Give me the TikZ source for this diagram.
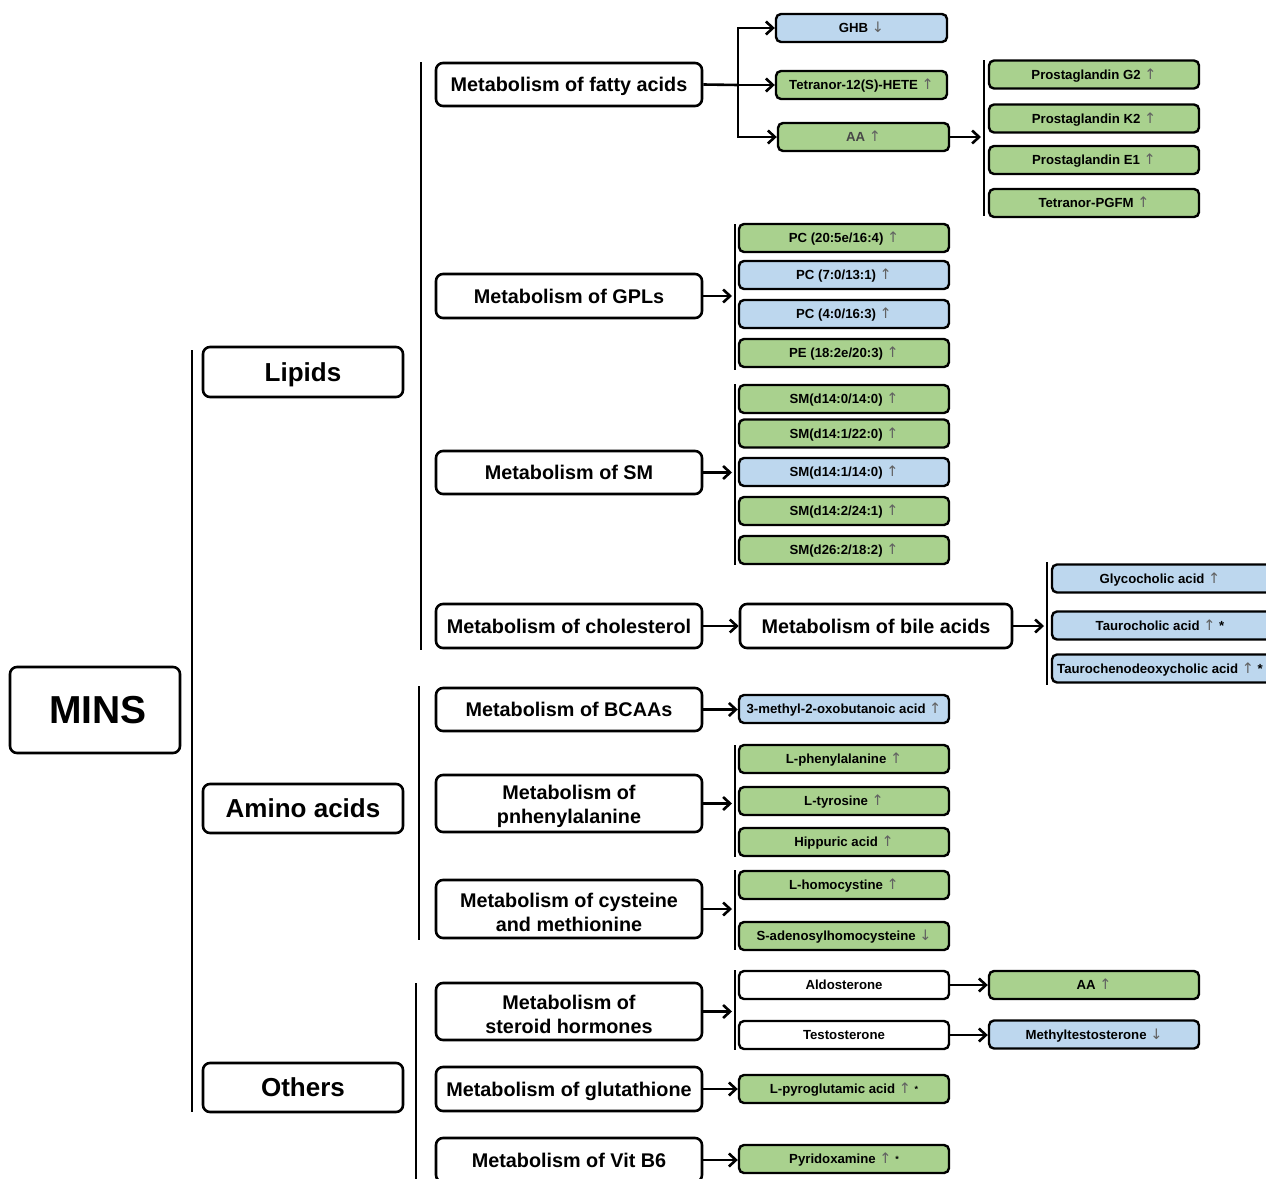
\documentclass[tikz,border=0pt]{standalone}
\usepackage{fontspec}
\setmainfont{Liberation Sans}
\newfontfamily\arrfont{DejaVu Sans}
\usetikzlibrary{arrows.meta}
\definecolor{lgreen}{HTML}{A9D18E}
\definecolor{lblue}{HTML}{BDD7EE}
\newcommand\myup{{\arrfont\mdseries\fontsize{14.5}{14}\selectfont\color{black!62}↑}}
\newcommand\mydown{{\arrfont\mdseries\fontsize{14.5}{14}\selectfont\color{black!62}↓}}
\newcommand\mystar{{\fontsize{9}{9}\selectfont\raisebox{1pt}{*}}}
\newcommand\tallstrut{\rule{0pt}{20.5pt}}
\tikzset{
  box/.style={draw, line width=2.6pt, rounded corners=7pt, align=center, inner sep=0pt,
    font=\bfseries\fontsize{19.8}{24}\selectfont},
  one/.style={text height=14.2pt, text depth=0pt},
  big/.style={box, text height=18.6pt, text depth=0pt, font=\bfseries\fontsize{26}{30}\selectfont},
  leaf/.style={draw, line width=2.4pt, rounded corners=5pt, inner sep=0pt, text height=9.5pt, text depth=0pt,
    minimum width=210pt, minimum height=28pt, font=\bfseries\fontsize{13.2}{16}\selectfont},
  gr/.style={leaf, fill=lgreen},
  bl/.style={leaf, fill=lblue},
  wh/.style={leaf, fill=white},
  arr/.style={line width=2.6pt, -{Straight Barb[length=7pt,width=13pt]}},
  bar/.style={line width=2.6pt},
  link/.style={line width=2.6pt}
}
\begin{document}
\begin{tikzpicture}[x=1pt,y=-1pt]
\path[use as bounding box] (0,0) rectangle (1266,1178);
\clip (0,0) rectangle (1266,1178);

% root and categories
\node[box, text height=27.9pt, text depth=0pt, minimum width=170pt, minimum height=86pt, font=\bfseries\fontsize{39}{44}\selectfont] (mins) at (95,710) {\hspace*{6pt}MINS};
\node[big, minimum width=200pt, minimum height=50pt] (lipids) at (303,372) {Lipids};
\node[big, minimum width=200pt, minimum height=49pt] (amino) at (303,808.5) {Amino acids};
\node[big, minimum width=200pt, minimum height=49pt] (others) at (303,1087.5) {Others};

% bars
\draw[bar] (192,350) -- (192,1112);
\draw[bar] (421,62) -- (421,650);
\draw[bar] (419,686) -- (419,940);
\draw[bar] (416,983) -- (416,1180);
\draw[bar] (984,60) -- (984,216);
\draw[bar] (735,224) -- (735,370);
\draw[bar] (735,384) -- (735,565);
\draw[bar] (1047,562) -- (1047,685);
\draw[bar] (735,745) -- (735,857);
\draw[bar] (735,870) -- (735,950);
\draw[bar] (735,970) -- (735,1050);

% metabolism boxes
\node[box, one, minimum width=266pt, minimum height=43pt] (fa) at (569,84.5) {Metabolism of fatty acids};
\node[box, one, minimum width=266pt, minimum height=44pt] (gpl) at (569,296) {Metabolism of GPLs};
\node[box, one, minimum width=266pt, minimum height=43pt] (sm) at (569,472.5) {Metabolism of SM};
\node[box, one, minimum width=266pt, minimum height=44pt] (chol) at (569,626) {Metabolism of cholesterol};
\node[box, one, minimum width=272pt, minimum height=44pt] (bile) at (876,626) {Metabolism of bile acids};
\node[box, one, minimum width=266pt, minimum height=43pt] (bcaa) at (569,709.5) {Metabolism of BCAAs};
\node[box, minimum width=266pt, minimum height=57pt] (phe) at (569,803.5) {\tallstrut Metabolism of\\pnhenylalanine};
\node[box, minimum width=266pt, minimum height=58pt] (cys) at (569,909) {\tallstrut Metabolism of cysteine\\and methionine};
\node[box, minimum width=266pt, minimum height=57pt] (ster) at (569,1011.5) {\tallstrut Metabolism of\\steroid hormones};
\node[box, one, minimum width=266pt, minimum height=44pt] (glu) at (569,1089) {Metabolism of glutathione};
\node[box, one, minimum width=266pt, minimum height=44pt] (b6) at (569,1160) {Metabolism of Vit B6};

% fatty acids leaves
\node[bl, minimum width=171pt] (ghb) at (861.5,28) {GHB \mydown};
\node[gr, minimum width=171pt] (tet) at (861.5,85) {Tetranor-12(S)-HETE \myup};
\node[gr, minimum width=171pt, text=black!72] (aa) at (863.5,137) {AA \myup};
\node[gr] (pg2) at (1094,74.5) {Prostaglandin G2 \myup};
\node[gr] (pk2) at (1094,118.5) {Prostaglandin K2 \myup};
\node[gr] (pe1) at (1094,160) {Prostaglandin E1 \myup};
\node[gr] (pgfm) at (1094,203) {Tetranor-PGFM \myup};

% GPL leaves
\node[gr] (pc1) at (844,238) {PC (20:5e/16:4) \myup};
\node[bl] (pc2) at (844,275) {PC (7:0/13:1) \myup};
\node[bl] (pc3) at (844,314) {PC (4:0/16:3) \myup};
\node[gr] (pe) at (844,353) {PE (18:2e/20:3) \myup};

% SM leaves
\node[gr] (sm1) at (844,399) {SM(d14:0/14:0) \myup};
\node[gr] (sm2) at (844,433.5) {SM(d14:1/22:0) \myup};
\node[bl] (sm3) at (844,472) {SM(d14:1/14:0) \myup};
\node[gr] (sm4) at (844,511) {SM(d14:2/24:1) \myup};
\node[gr] (sm5) at (844,550) {SM(d26:2/18:2) \myup};

% bile acid leaves
\node[bl, minimum width=220pt] (gca) at (1162,578.5) {\hspace*{-4pt}Glycocholic acid \myup};
\node[bl, minimum width=220pt] (tca) at (1162,625.5) {\hspace*{-4pt}Taurocholic acid \myup\ *};
\node[bl, minimum width=220pt] (tcdca) at (1162,668.5) {\hspace*{-4pt}Taurochenodeoxycholic acid \myup\ *};

% amino acid leaves
\node[bl] (mob) at (844,709) {3-methyl-2-oxobutanoic acid \myup};
\node[gr] (lphe) at (844,759) {L-phenylalanine \myup};
\node[gr] (ltyr) at (844,801) {L-tyrosine \myup};
\node[gr] (hip) at (844,842) {Hippuric acid \myup};
\node[gr] (lhc) at (844,885) {L-homocystine \myup};
\node[gr] (sah) at (844,936) {S-adenosylhomocysteine \mydown};

% others leaves
\node[wh] (ald) at (844,985) {Aldosterone};
\node[wh] (tes) at (844,1035) {Testosterone};
\node[gr] (aa2) at (1094,985) {AA \myup};
\node[bl] (mtes) at (1094,1034.5) {Methyltestosterone \mydown};
\node[gr] (pyg) at (844,1089) {L-pyroglutamic acid \myup\ \mystar};
\node[gr] (pyr) at (844,1159) {Pyridoxamine \myup\ \mystar};

% bar target coordinates
\coordinate (fork) at (738,85);
\coordinate (pgbar) at (981,137);
\coordinate (gplbar) at (732,296);
\coordinate (smbar) at (732,472.5);
\coordinate (bilebar) at (1044,626);
\coordinate (phebar) at (732,803.5);
\coordinate (cysbar) at (732,909);
\coordinate (sterbar) at (732,1011.5);

% connectors
\draw[link] (fa.east) -- (fork);
\draw[arr] (fork) |- (ghb.west);
\draw[arr] (fork) -- (tet.west);
\draw[arr] (fork) |- (aa.west);
\draw[arr] (aa.east) -- (pgbar);
\draw[arr] (gpl.east) -- (gplbar);
\draw[arr] (sm.east) -- (smbar);
\draw[arr] (chol.east) -- (bile.west);
\draw[arr] (bile.east) -- (bilebar);
\draw[arr] (bcaa.east) -- (mob.west |- bcaa.east);
\draw[arr] (phe.east) -- (phebar);
\draw[arr] (cys.east) -- (cysbar);
\draw[arr] (ster.east) -- (sterbar);
\draw[arr] (ald.east) -- (aa2.west);
\draw[arr] (tes.east) -- (mtes.west |- tes.east);
\draw[arr] (glu.east) -- (pyg.west);
\draw[arr] (b6.east) -- (pyr.west |- b6.east);
\end{tikzpicture}
\end{document}
